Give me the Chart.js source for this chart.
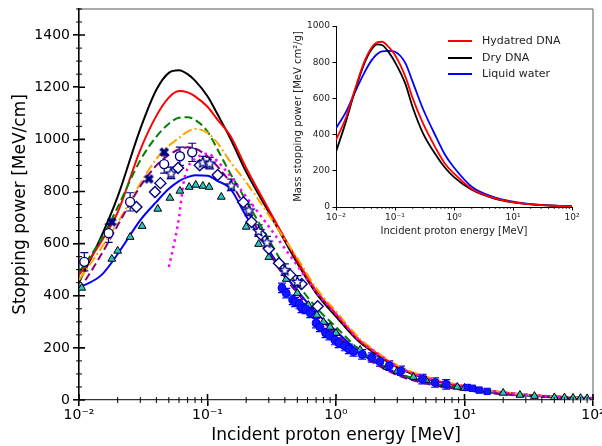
<!DOCTYPE html>
<html>
<head>
<meta charset="utf-8">
<script src="https://cdn.jsdelivr.net/npm/chart.js@4.4.0/dist/chart.umd.min.js"></script>
<style>
body { margin: 0; background: #fff; }
#wrap { position: relative; width: 602px; height: 446px; }
#main { position: absolute; left: 0; top: 0; }
#inset { position: absolute; left: 284px; top: 14px; }
#legend { position: absolute; left: 448px; top: 33px; font: 11px "DejaVu Sans", sans-serif; color: #222; }
.row { height: 16.5px; line-height: 16.5px; white-space: nowrap; }
.ln { display: inline-block; width: 24px; height: 2px; vertical-align: middle; margin-right: 10px; }
</style>
</head>
<body>
<div id="wrap">
  <canvas id="main" width="602" height="446"></canvas>
  <canvas id="inset" width="300" height="228"></canvas>
  <div id="legend"></div>
</div>
<script>
// ---- main plot: model curves (MeV/cm) ----
const energy = [0.01, 0.015, 0.02, 0.03, 0.04, 0.05, 0.06, 0.07, 0.08, 0.1, 0.12, 0.15, 0.2, 0.3, 0.4, 0.5, 0.7, 1, 1.5, 2, 3, 5, 10, 20, 50, 100];
const blackCurve  = [450, 630, 780, 1040, 1190, 1255, 1265, 1250, 1225, 1165, 1095, 1005, 875, 720, 610, 525, 410, 320, 225, 180, 125, 82, 50, 28, 13, 7];
const redCurve    = [480, 610, 720, 960, 1090, 1160, 1185, 1180, 1165, 1125, 1075, 1015, 890, 730, 620, 535, 420, 330, 232, 185, 128, 85, 52, 29, 13, 7];
const greenCurve  = [490, 620, 740, 920, 1010, 1060, 1083, 1085, 1075, 1030, 960, 870, 765, 615, 510, 445, 355, 280, 195, 152, 105, 70, 44, 26, 12, 6];
const orangeCurve = [460, 585, 680, 830, 925, 975, 1005, 1030, 1040, 1025, 985, 915, 835, 710, 615, 545, 430, 340, 240, 190, 133, 90, 55, 30, 14, 8];
const purpleCurve = [420, 560, 670, 820, 900, 940, 962, 970, 965, 935, 895, 835, 735, 570, 470, 410, 325, 255, 178, 140, 95, 63, 38, 22, 10, 5];
const blueCurve   = [430, 480, 560, 690, 760, 810, 840, 855, 862, 860, 840, 812, 705, 575, 480, 420, 335, 265, 185, 145, 100, 67, 41, 24, 11, 6];
const magentaE = [0.05, 0.055, 0.06, 0.065, 0.07, 0.08, 0.1, 0.12, 0.15, 0.2, 0.3, 0.5, 0.7, 1, 1.5, 2, 3, 5, 10, 20, 50, 100];
const magentaS = [510, 600, 700, 830, 890, 925, 945, 915, 860, 780, 665, 515, 415, 330, 232, 185, 128, 86, 52, 29, 13, 7];

// ---- main plot: measurements ----
const triE = [0.0105, 0.018, 0.02, 0.025, 0.031, 0.041, 0.051, 0.061, 0.072, 0.081, 0.092, 0.103, 0.128, 0.2, 0.25, 0.3, 0.41, 0.5, 0.61, 0.71, 0.8, 0.9, 1.0, 1.54, 2.5, 3.0, 4.0, 5.0, 7.0, 8.8, 10, 20, 27, 35, 50, 60, 70, 80, 90];
const triS = [430, 541, 572, 625, 667, 733, 775, 802, 817, 825, 821, 817, 779, 664, 598, 548, 464, 410, 364, 326, 299, 280, 257, 192, 127, 111, 88, 77, 58, 50, 46, 27, 19, 15, 10, 9, 8, 7, 6];
const dotE = [0.38, 0.41, 0.46, 0.48, 0.52, 0.54, 0.58, 0.63, 0.7, 0.75, 0.83, 0.89, 0.98, 1.05, 1.17, 1.26, 1.37, 1.6, 1.9, 2.2, 2.6, 3.2, 4.7, 5.9, 7.2];
const dotS = [430, 410, 384, 376, 368, 353, 349, 334, 295, 280, 257, 249, 230, 219, 207, 196, 186, 175, 163, 148, 132, 112, 80, 67, 60];
const dotErr = 18;
const squareE = [10.5, 11.5, 13, 15];
const squareS = [48, 45, 38, 33];
const circE = [0.011, 0.017, 0.025, 0.046, 0.061, 0.076];
const circS = [530, 640, 760, 905, 935, 950];
const circErr = 35;
const diamE = [0.028, 0.039, 0.043, 0.059, 0.087, 0.12, 0.19, 0.22, 0.26, 0.3, 0.36, 0.44, 0.54, 0.72];
const diamS = [740, 798, 832, 890, 901, 863, 759, 683, 635, 580, 525, 480, 445, 360];
const starE = [0.052, 0.092, 0.104, 0.153, 0.21, 0.25, 0.29, 0.4, 0.5];
const starS = [871, 913, 909, 825, 729, 650, 606, 500, 455];
const starErr = 22;
const crossE = [0.018, 0.035, 0.046];
const crossS = [683, 848, 951];

// ---- inset: mass stopping power (MeV cm2/g) ----
const insetE = [0.01, 0.015, 0.02, 0.03, 0.04, 0.05, 0.06, 0.08, 0.1, 0.15, 0.2, 0.3, 0.5, 0.7, 1, 2, 5, 10, 20, 50, 100];
const hydratedDNA = [370, 500, 630, 800, 880, 910, 913, 880, 840, 720, 600, 460, 320, 240, 185, 100, 48, 27, 15, 7, 4];
const dryDNA      = [305, 480, 620, 790, 870, 898, 895, 850, 800, 680, 550, 406, 285, 218, 165, 95, 45, 26, 15, 7, 4];
const liquidWater = [435, 530, 620, 740, 810, 845, 860, 863, 858, 795, 690, 540, 385, 290, 218, 112, 52, 30, 16, 8, 4];
const insetLabels = ['Hydatred DNA', 'Dry DNA', 'Liquid water'];

// ---- ticks ----
const xMajor = [0.01, 0.1, 1, 10, 100];
const xMinor = [0.02, 0.03, 0.04, 0.05, 0.06, 0.07, 0.08, 0.09, 0.2, 0.3, 0.4, 0.5, 0.6, 0.7, 0.8, 0.9, 2, 3, 4, 5, 6, 7, 8, 9, 20, 30, 40, 50, 60, 70, 80, 90];
const yTicks = [0, 200, 400, 600, 800, 1000, 1200, 1400];
const yMinor = [50, 100, 150, 250, 300, 350, 450, 500, 550, 650, 700, 750, 850, 900, 950, 1050, 1100, 1150, 1250, 1300, 1350, 1450, 1500];
const insetYTicks = [0, 200, 400, 600, 800, 1000];

function pts(xs, ys) { return xs.map((x, i) => ({ x: x, y: ys[i] })); }

function fmtPow(v) {
    const sup = { '-': '\u207b', '0': '\u2070', '1': '\u00b9', '2': '\u00b2', '3': '\u00b3', '4': '\u2074', '5': '\u2075', '6': '\u2076', '7': '\u2077', '8': '\u2078', '9': '\u2079' };
    const e = String(Math.round(Math.log10(v)));
    return '10' + e.split('').map(c => sup[c]).join('');
}

function starImage(r, color) {
    const c = document.createElement('canvas');
    const s = Math.ceil(r * 2 + 4);
    c.width = s; c.height = s;
    const g = c.getContext('2d');
    g.translate(s / 2, s / 2 + 0.7);
    g.beginPath();
    for (let i = 0; i < 10; i++) {
        const rr = i % 2 ? r * 0.45 : r;
        const a = -Math.PI / 2 + i * Math.PI / 5;
        g.lineTo(rr * Math.cos(a), rr * Math.sin(a));
    }
    g.closePath();
    g.fillStyle = '#fff'; g.fill();
    g.strokeStyle = color; g.lineWidth = 1.3; g.stroke();
    return c;
}

function xImage(r, color) {
    const c = document.createElement('canvas');
    const s = Math.ceil(r * 2 + 4);
    c.width = s; c.height = s;
    const g = c.getContext('2d');
    g.translate(s / 2, s / 2);
    g.strokeStyle = color; g.lineWidth = r * 0.8;
    g.beginPath();
    g.moveTo(-r * 0.8, -r * 0.8); g.lineTo(r * 0.8, r * 0.8);
    g.moveTo(-r * 0.8, r * 0.8); g.lineTo(r * 0.8, -r * 0.8);
    g.stroke();
    return c;
}

// vertical error bars with caps
const errorBarPlugin = {
    id: 'errorBars',
    beforeDatasetsDraw(chart) {
        const ctx = chart.ctx;
        const y = chart.scales.y;
        chart.data.datasets.forEach((ds, i) => {
            if (!ds.errorSize) return;
            const meta = chart.getDatasetMeta(i);
            ctx.save();
            ctx.strokeStyle = ds.borderColor;
            ctx.lineWidth = 1.2;
            meta.data.forEach((pt, j) => {
                const v = ds.data[j].y;
                const top = y.getPixelForValue(v + ds.errorSize);
                const bot = y.getPixelForValue(v - ds.errorSize);
                ctx.beginPath();
                ctx.moveTo(pt.x, top); ctx.lineTo(pt.x, bot);
                ctx.moveTo(pt.x - 4, top); ctx.lineTo(pt.x + 4, top);
                ctx.moveTo(pt.x - 4, bot); ctx.lineTo(pt.x + 4, bot);
                ctx.stroke();
            });
            ctx.restore();
        });
    }
};

// top/right spines, inner halves of major ticks and minor ticks of the main axes
const mainTicksPlugin = {
    id: 'mainticks',
    afterDraw(chart) {
        const ctx = chart.ctx, a = chart.chartArea;
        const sx = chart.scales.x, sy = chart.scales.y;
        ctx.save();
        ctx.strokeStyle = '#555';
        ctx.lineWidth = 1;
        ctx.beginPath(); ctx.moveTo(a.left, a.top); ctx.lineTo(a.right, a.top); ctx.stroke();
        ctx.strokeStyle = '#777';
        ctx.lineWidth = 1.2;
        ctx.beginPath(); ctx.moveTo(a.right, a.top); ctx.lineTo(a.right, a.bottom); ctx.stroke();
        ctx.strokeStyle = '#000';
        ctx.lineWidth = 1.6;
        ctx.beginPath();
        xMajor.forEach(v => { const px = sx.getPixelForValue(v); ctx.moveTo(px, a.bottom - 6); ctx.lineTo(px, a.bottom); });
        yTicks.forEach(v => { const py = sy.getPixelForValue(v); ctx.moveTo(a.left, py); ctx.lineTo(a.left + 6, py); });
        ctx.stroke();
        ctx.lineWidth = 1;
        ctx.beginPath();
        xMinor.forEach(v => { const px = sx.getPixelForValue(v); ctx.moveTo(px, a.bottom - 3); ctx.lineTo(px, a.bottom + 3); });
        yMinor.forEach(v => { const py = sy.getPixelForValue(v); ctx.moveTo(a.left - 3, py); ctx.lineTo(a.left + 3, py); });
        ctx.stroke();
        ctx.restore();
    }
};

// minor ticks of the inset x axis
const insetTicksPlugin = {
    id: 'insetticks',
    afterDraw(chart) {
        const ctx = chart.ctx, a = chart.chartArea;
        const sx = chart.scales.x;
        ctx.save();
        ctx.strokeStyle = '#000';
        ctx.lineWidth = 0.8;
        ctx.beginPath();
        xMinor.forEach(v => { const px = sx.getPixelForValue(v); ctx.moveTo(px, a.bottom); ctx.lineTo(px, a.bottom + 2); });
        ctx.stroke();
        ctx.restore();
    }
};

function curve(data, color, dash, width) {
    return {
        data: data, showLine: true, borderColor: color, backgroundColor: color,
        borderWidth: width || 2, borderDash: dash || [], pointRadius: 0,
        cubicInterpolationMode: 'monotone', tension: 0.4
    };
}

const fontName = 'DejaVu Sans';
const navy = '#000080';

new Chart(document.getElementById('main'), {
    type: 'scatter',
    data: {
        datasets: [
            { data: pts(crossE, crossS), pointStyle: xImage(4.5, navy), pointRadius: 5 },
            { data: pts(starE, starS), pointStyle: starImage(5.5, navy), pointRadius: 5, borderColor: navy, errorSize: starErr },
            { data: pts(circE, circS), pointStyle: 'circle', pointRadius: 4.5, backgroundColor: '#fff', borderColor: navy, borderWidth: 1.4, errorSize: circErr },
            { data: pts(diamE, diamS), pointStyle: 'rectRot', pointRadius: 5.5, backgroundColor: '#fff', borderColor: navy, borderWidth: 1.4 },
            { data: pts(dotE, dotS), pointStyle: 'circle', pointRadius: 4, backgroundColor: '#1414ff', borderColor: '#0000ff', borderWidth: 1, errorSize: dotErr },
            { data: pts(squareE, squareS), pointStyle: 'rect', pointRadius: 4.5, backgroundColor: '#1414ff', borderColor: '#0000ff', borderWidth: 1 },
            { data: pts(triE, triS), pointStyle: 'triangle', pointRadius: 4.5, backgroundColor: '#2ec4c4', borderColor: '#000', borderWidth: 1 },
            curve(pts(magentaE, magentaS), '#ff00ff', [2.5, 4], 2.5),
            curve(pts(energy, purpleCurve), '#800080', [8, 4]),
            curve(pts(energy, orangeCurve), '#ffa500', [10, 3, 2, 3]),
            curve(pts(energy, greenCurve), '#008000', [8, 4]),
            curve(pts(energy, blueCurve), '#0000ff'),
            curve(pts(energy, redCurve), '#ff0000'),
            curve(pts(energy, blackCurve), '#000000')
        ]
    },
    options: {
        responsive: false,
        animation: false,
        layout: { padding: { left: 0, right: 9, top: 9, bottom: 0 } },
        plugins: { legend: { display: false }, tooltip: { enabled: false } },
        scales: {
            x: {
                type: 'logarithmic', min: 0.01, max: 100,
                grid: { display: true, drawOnChartArea: false, drawTicks: true, tickLength: 6, color: '#000', lineWidth: 1.6 },
                border: { display: true, color: '#333', width: 1.3 },
                afterBuildTicks: s => { s.ticks = xMajor.map(v => ({ value: v })); },
                afterFit: s => { s.height = 46; s.paddingLeft = 0; s.paddingRight = 0; },
                ticks: { color: '#000', font: { family: fontName, size: 14 }, padding: 1, maxRotation: 0, autoSkip: false, callback: v => fmtPow(v) },
                title: { display: true, text: 'Incident proton energy [MeV]', color: '#000', font: { family: fontName, size: 17 }, padding: { top: 0, bottom: 0 } }
            },
            y: {
                min: 0, max: 1500,
                grid: { display: true, drawOnChartArea: false, drawTicks: true, tickLength: 6, color: '#000', lineWidth: 1.6 },
                border: { display: true, color: '#000', width: 1.6 },
                afterBuildTicks: s => { s.ticks = yTicks.map(v => ({ value: v })); },
                afterFit: s => { s.width = 79; s.paddingTop = 0; s.paddingBottom = 0; },
                ticks: { color: '#000', font: { family: fontName, size: 14 }, padding: 3, callback: v => String(v) },
                title: { display: true, text: 'Stopping power [MeV/cm]', color: '#000', font: { family: fontName, size: 17 }, padding: { top: 10, bottom: 0 } }
            }
        }
    },
    plugins: [errorBarPlugin, mainTicksPlugin]
});

// ---- inset ----
const insetColors = ['#ff0000', '#000000', '#0000ff'];
const insetSeries = [hydratedDNA, dryDNA, liquidWater];

new Chart(document.getElementById('inset'), {
    type: 'scatter',
    data: {
        datasets: insetSeries.map((s, i) => Object.assign(curve(pts(insetE, s), insetColors[i], [], 1.8), { label: insetLabels[i] }))
    },
    options: {
        responsive: false,
        animation: false,
        layout: { padding: { left: 0, right: 12, top: 12, bottom: 0 } },
        plugins: { legend: { display: false }, tooltip: { enabled: false } },
        scales: {
            x: {
                type: 'logarithmic', min: 0.01, max: 100,
                grid: { display: true, drawOnChartArea: false, drawTicks: true, tickLength: 3.5, color: '#000', lineWidth: 1 },
                border: { display: true, color: '#000', width: 1 },
                afterBuildTicks: s => { s.ticks = xMajor.map(v => ({ value: v })); },
                afterFit: s => { s.height = 35; s.paddingLeft = 0; s.paddingRight = 0; },
                ticks: { color: '#222', font: { family: fontName, size: 9 }, padding: 1.5, maxRotation: 0, autoSkip: false, callback: v => fmtPow(v) },
                title: { display: true, text: 'Incident proton energy [MeV]', color: '#222', font: { family: fontName, size: 10 }, padding: { top: 0, bottom: 4.5 } }
            },
            y: {
                min: 0, max: 1000,
                grid: { display: true, drawOnChartArea: false, drawTicks: true, tickLength: 3.5, color: '#000', lineWidth: 1 },
                border: { display: true, color: '#000', width: 1 },
                afterBuildTicks: s => { s.ticks = insetYTicks.map(v => ({ value: v })); },
                afterFit: s => { s.width = 52; s.paddingTop = 0; s.paddingBottom = 0; },
                ticks: { color: '#222', font: { family: fontName, size: 9 }, padding: 2.5, callback: v => String(v) },
                title: { display: true, text: 'Mass stopping power [MeV cm\u00b2/g]', color: '#222', font: { family: fontName, size: 10 }, padding: { top: 8, bottom: 0 } }
            }
        }
    },
    plugins: [insetTicksPlugin]
});

// inset legend
const legendBox = document.getElementById('legend');
insetLabels.forEach((name, i) => {
    const row = document.createElement('div');
    row.className = 'row';
    row.innerHTML = '<span class="ln" style="background:' + insetColors[i] + '"></span>' + name;
    legendBox.appendChild(row);
});
</script>
</body>
</html>
